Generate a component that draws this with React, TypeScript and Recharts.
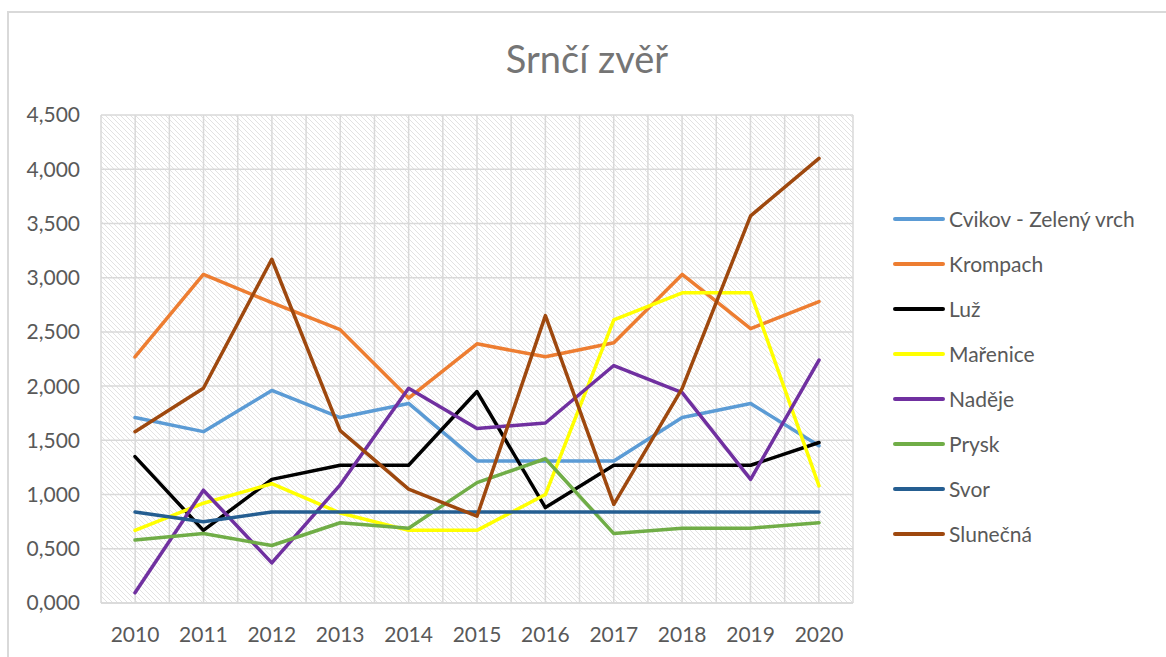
import React from 'react'
import { CartesianGrid, Legend, Line, LineChart, XAxis, YAxis } from 'recharts'

const YEARS = ['2010', '2011', '2012', '2013', '2014', '2015', '2016', '2017', '2018', '2019', '2020']

const CVIKOV = [1.71, 1.58, 1.96, 1.71, 1.84, 1.31, 1.31, 1.31, 1.71, 1.84, 1.45]
const KROMPACH = [2.27, 3.03, 2.77, 2.52, 1.89, 2.39, 2.27, 2.4, 3.03, 2.53, 2.78]
const LUZ = [1.35, 0.67, 1.14, 1.27, 1.27, 1.95, 0.88, 1.27, 1.27, 1.27, 1.48]
const MARENICE = [0.67, 0.92, 1.1, 0.83, 0.67, 0.67, 1.0, 2.61, 2.86, 2.86, 1.08]
const NADEJE = [0.095, 1.04, 0.37, 1.09, 1.98, 1.61, 1.66, 2.19, 1.94, 1.14, 2.24]
const PRYSK = [0.58, 0.64, 0.53, 0.74, 0.69, 1.11, 1.33, 0.64, 0.69, 0.69, 0.74]
const SVOR = [0.84, 0.75, 0.84, 0.84, 0.84, 0.84, 0.84, 0.84, 0.84, 0.84, 0.84]
const SLUNECNA = [1.58, 1.98, 3.17, 1.59, 1.05, 0.8, 2.65, 0.91, 1.98, 3.57, 4.1]

const Y_TICKS = [0, 0.5, 1, 1.5, 2, 2.5, 3, 3.5, 4, 4.5]

const SERIES = [
  { key: 'cvikov', name: 'Cvikov - Zelený vrch', values: CVIKOV, color: '#5B9BD5' },
  { key: 'krompach', name: 'Krompach', values: KROMPACH, color: '#ED7D31' },
  { key: 'luz', name: 'Luž', values: LUZ, color: '#000000' },
  { key: 'marenice', name: 'Mařenice', values: MARENICE, color: '#FFFF00' },
  { key: 'nadeje', name: 'Naděje', values: NADEJE, color: '#7030A0' },
  { key: 'prysk', name: 'Prysk', values: PRYSK, color: '#70AD47' },
  { key: 'svor', name: 'Svor', values: SVOR, color: '#255E91' },
  { key: 'slunecna', name: 'Slunečná', values: SLUNECNA, color: '#9E480E' },
]

const data = YEARS.map((year, i) => {
  const row: Record<string, string | number> = { year }
  SERIES.forEach((s) => {
    row[s.key] = s.values[i]
  })
  return row
})

const FONT = 'Lato, "Open Sans", sans-serif'
const TEXT = '#595959'
const GRID = '#d9d9d9'

const formatTick = (v: number) => v.toFixed(3).replace('.', ',')

// gridlines on every category centre and every category boundary
const verticalLines = ({ offset }: any) => {
  const step = offset.width / YEARS.length
  const out: number[] = []
  for (let i = 0; i <= YEARS.length * 2; i++) out.push(offset.left + (i * step) / 2)
  return out
}

const LegendList = () => (
  <div style={{ fontFamily: FONT, fontSize: 21, color: TEXT }}>
    {SERIES.map((s) => (
      <div key={s.key} style={{ display: 'flex', alignItems: 'center', height: 45 }}>
        <div style={{ width: 52, height: 4, borderRadius: 2, background: s.color, marginRight: 4 }} />
        <span style={{ whiteSpace: 'nowrap' }}>{s.name}</span>
      </div>
    ))}
  </div>
)

export default function App() {
  return (
    <>
      <div
        style={{
          position: 'absolute',
          left: 7,
          top: 11,
          width: 1157,
          height: 644,
          borderTop: `2px solid ${GRID}`,
          borderLeft: `2px solid ${GRID}`,
          pointerEvents: 'none',
        }}
      />
      <div style={{ position: 'relative', width: 1150, height: 641 }}>
        <div
          style={{
            position: 'absolute',
            left: 0,
            top: 31,
            width: 1158,
            textAlign: 'center',
            fontFamily: FONT,
            fontSize: 38,
            lineHeight: 1,
            color: '#757575',
            zIndex: 1,
          }}
        >
          Srnčí zvěř
        </div>
        <LineChart
          width={1150}
          height={641}
          data={data}
          margin={{ top: 107, right: 305, left: 13, bottom: 6 }}
        >
          <defs>
            <pattern id="hatch" patternUnits="userSpaceOnUse" width={5} height={5}>
              <path d="M0,0 L5,5 M-1,4 L1,6 M4,-1 L6,1" stroke="#e2e2e2" strokeWidth={1} />
            </pattern>
          </defs>
          <CartesianGrid
            stroke={GRID}
            strokeWidth={1.5}
            fill="url(#hatch)"
            fillOpacity={1}
            verticalCoordinatesGenerator={verticalLines}
          />
          <XAxis
            dataKey="year"
            height={40}
            padding={{ left: 34, right: 34 }}
            axisLine={{ stroke: GRID, strokeWidth: 1.5 }}
            tickLine={false}
            tickMargin={18}
            tick={{ fill: TEXT, fontSize: 21, fontFamily: FONT }}
            interval={0}
          />
          <YAxis
            width={80}
            domain={[0, 4.5]}
            ticks={Y_TICKS}
            axisLine={false}
            tickLine={false}
            tickMargin={15}
            tickFormatter={formatTick}
            tick={{ fill: TEXT, fontSize: 21, fontFamily: FONT }}
          />
          <Legend
            layout="vertical"
            align="center"
            verticalAlign="middle"
            content={<LegendList />}
            wrapperStyle={{ left: 885, top: 188, width: 265 }}
          />
          {SERIES.map((s) => (
            <Line
              key={s.key}
              type="linear"
              dataKey={s.key}
              name={s.name}
              stroke={s.color}
              strokeWidth={3.5}
              strokeLinecap="round"
              strokeLinejoin="round"
              dot={false}
              activeDot={false}
              isAnimationActive={false}
            />
          ))}
        </LineChart>
      </div>
    </>
  )
}
